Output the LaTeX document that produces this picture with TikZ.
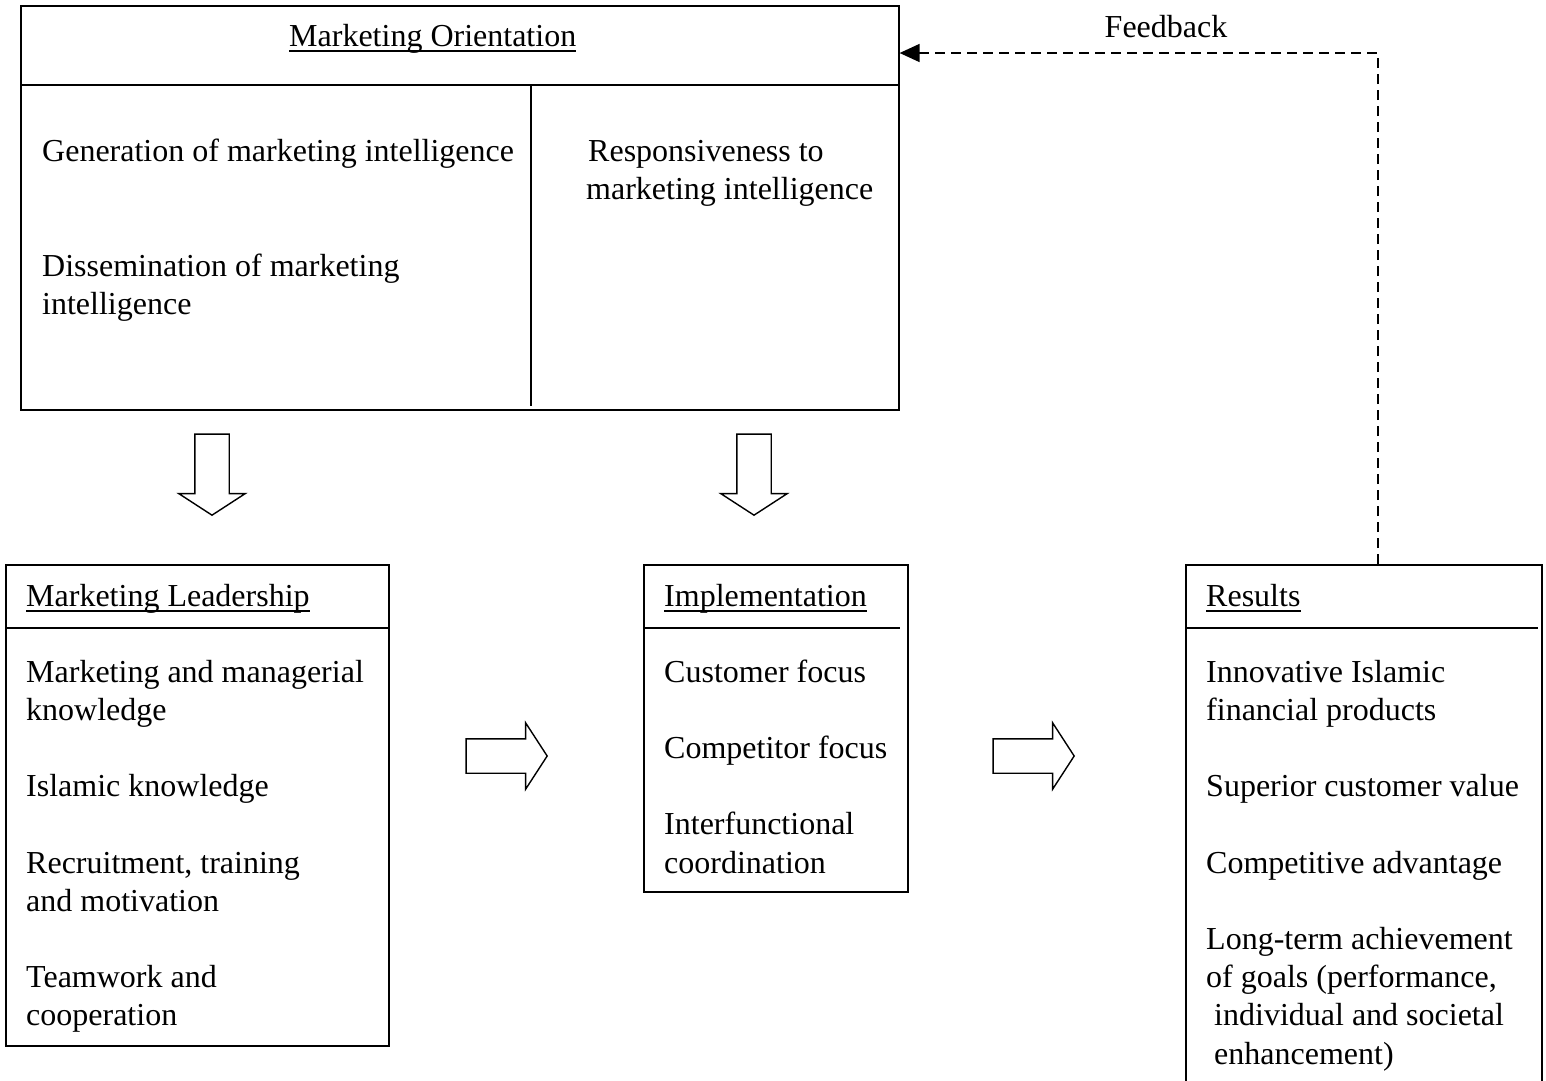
\documentclass[tikz,border=0pt]{standalone}
\usepackage{fontspec}
\setmainfont{Liberation Serif}
\usetikzlibrary{arrows.meta,shapes.arrows}

\tikzset{
  frame/.style={draw=black, line width=1.6pt, anchor=north west, inner sep=0pt},
  rule/.style={line width=1.6pt},
  txt/.style={anchor=base west, inner sep=0pt, font=\fontsize{32}{38.2}\selectfont},
  uline/.style={line width=1.4pt},
  blockarr/.style={single arrow, draw=black, line width=1.4pt, anchor=tip,
    minimum height=81pt, inner sep=16.5pt,
    single arrow head extend=16pt, single arrow tip angle=114},
  fb/.style={dash pattern=on 10pt off 6pt, line width=1.6pt,
    -{Triangle[length=20pt,width=18pt]}}
}
\newcommand{\gap}{38.2pt}

\begin{document}
\begin{tikzpicture}[x=1pt,y=-1pt]
\useasboundingbox (0,0) rectangle (1546,1080);

% top block
\node[frame, minimum width=878pt, minimum height=404pt] (orient) at (20,5) {};
\draw[rule] ([yshift=-80pt]orient.north west) -- ([yshift=-80pt]orient.north east);
\draw[rule] ([xshift=511pt,yshift=-80pt]orient.north west) -- ([xshift=511pt,yshift=5pt]orient.south west);
\node[txt] (orientT) at (289,46) {Marketing Orientation};
\node[txt] (gen) at (42,161) {Generation of marketing intelligence};
\node[txt] (diss) at (42,276) {\parbox[t]{460pt}{Dissemination of marketing\\ intelligence}};
\node[txt] (resp) at (586,161) {\parbox[t]{300pt}{\hspace*{2pt}Responsiveness to\\ marketing intelligence}};

% lower blocks
\node[frame, minimum width=383pt, minimum height=481pt] (lead) at (5,564) {};
\draw[rule] ([yshift=-64pt]lead.north west) -- ([yshift=-64pt]lead.north east);
\node[txt] (leadT) at (26,606) {Marketing Leadership};
\node[txt] (leadI) at (26,682) {\parbox[t]{360pt}{Marketing and managerial\\ knowledge\\[\gap]
  Islamic knowledge\\[\gap]
  Recruitment, training\\ and motivation\\[\gap]
  Teamwork and\\ cooperation}};

\node[frame, minimum width=264pt, minimum height=327pt] (impl) at (643,564) {};
\draw[rule] ([yshift=-64pt]impl.north west) -- ([xshift=-9pt,yshift=-64pt]impl.north east);
\node[txt] (implT) at (664,606) {Implementation};
\node[txt] (implI) at (664,682) {\parbox[t]{300pt}{Customer focus\\[\gap]
  Competitor focus\\[\gap]
  Interfunctional\\ coordination}};

\node[frame, minimum width=356pt, minimum height=540pt] (res) at (1185,564) {};
\draw[rule] ([yshift=-64pt]res.north west) -- ([xshift=-5pt,yshift=-64pt]res.north east);
\node[txt] (resT) at (1206,606) {Results};
\node[txt] (resI) at (1206,682) {\parbox[t]{340pt}{Innovative Islamic\\ financial products\\[\gap]
  Superior customer value\\[\gap]
  Competitive advantage\\[\gap]
  Long-term achievement\\ of goals (performance,\\
  \hspace*{8pt}individual and societal\\
  \hspace*{8pt}enhancement)}};

\foreach \t in {orientT,leadT,implT,resT}
  \draw[uline] ([yshift=-5pt]\t.base west) -- ([yshift=-5pt]\t.base east);

% block arrows
\node[blockarr, rotate=-90] (downA) at (212,516) {};
\node[blockarr, rotate=-90] (downB) at (754,516) {};
\node[blockarr] (rightA) at (548,756) {};
\node[blockarr] (rightB) at (1075,756) {};

% feedback loop
\draw[fb] ([xshift=14pt]res.north) |- ([yshift=-48pt]orient.north east);
\node[txt, anchor=base] (fbT) at (1166,37) {Feedback};
\end{tikzpicture}
\end{document}
